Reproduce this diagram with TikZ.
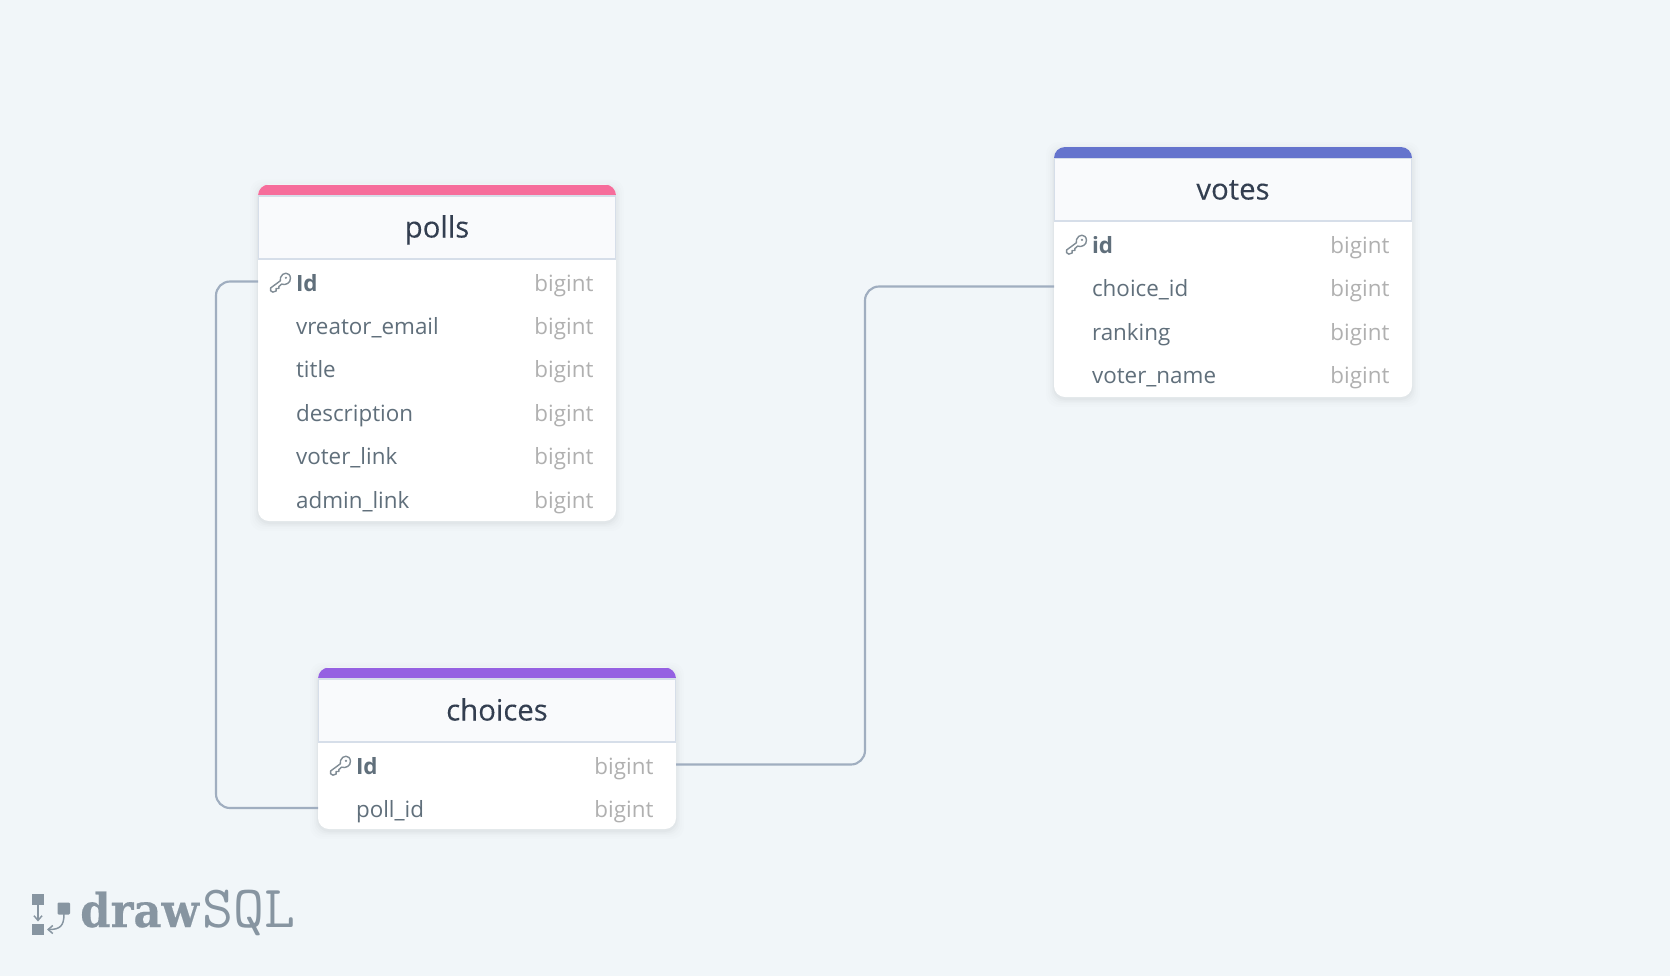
\documentclass[tikz,border=0pt]{standalone}
\usepackage{fontspec}
\setmainfont{Open Sans}
\newfontfamily\titlefont{Open Sans}[FakeBold=0.2]
\newfontfamily\slabbold{DejaVu Serif}[BoldFont={DejaVu Serif Bold},BoldFeatures={FakeBold=0.4}]
\newfontfamily\slablight{Latin Modern Mono}
\usetikzlibrary{arrows.meta}
\definecolor{bgc}{HTML}{F1F6F9}
\definecolor{pinkc}{HTML}{F66D9B}
\definecolor{purplec}{HTML}{9561E2}
\definecolor{bluec}{HTML}{6574CD}
\definecolor{linec}{HTML}{A0AEC0}
\definecolor{rowc}{HTML}{606F7B}
\definecolor{titlec}{HTML}{333E50}
\definecolor{typec}{HTML}{B0B0B0}
\definecolor{headc}{HTML}{F9FAFC}
\definecolor{edgec}{HTML}{D6DEE9}
\definecolor{logoc}{HTML}{8795A1}
\tikzset{
  x=0.75pt,y=-0.75pt,
  tablebody/.style={fill=white,draw=none,rounded corners=8.25pt},
  rowband/.style={minimum width=268.5pt,minimum height=32pt,inner sep=0,outer sep=0},
  rowtext/.style={anchor=base west,inner sep=0,text=rowc,font=\fontsize{16.8}{20}\selectfont},
  keytext/.style={rowtext,font=\fontsize{16.8}{20}\selectfont\bfseries},
  typetext/.style={anchor=base east,inner sep=0,text=typec,font=\fontsize{16.8}{20}\selectfont},
  titletext/.style={anchor=base,inner sep=0,text=titlec,font=\titlefont\fontsize{22}{24}\selectfont},
  link/.style={draw=linec,line width=1.6pt,rounded corners=10.5pt},
  keyline/.style={draw=rowc!80!white,line width=1.05pt,line cap=round,line join=round},
}
% #1 name, #2 left x, #3 top y, #4 header bottom y, #5 bottom y, #6 colour, #7 title
\newcommand{\dbtable}[7]{%
  \foreach \s/\o in {8/0.008,6/0.009,4/0.012,2.5/0.015,1/0.02}{%
    \fill[black,opacity=\o,rounded corners=9pt] (#2-\s,#3+3-\s) rectangle (#2+358+\s,#5+2+\s);}
  \fill[tablebody] (#2,#3) rectangle (#2+358,#5);
  \begin{scope}
    \clip[rounded corners=8.25pt] (#2,#3) rectangle (#2+358,#5);
    \fill[#6] (#2,#3) rectangle (#2+358,#3+11);
    \fill[headc] (#2,#3+11) rectangle (#2+358,#4);
  \end{scope}
  \draw[edgec,line width=1.1pt] (#2+.7,#3+11.5) -- (#2+357.3,#3+11.5) -- (#2+357.3,#4) -- (#2+.7,#4) -- cycle;
  \node[titletext] (#1-title) at (#2+179,#4-21.5) {#7};
}
% #1 name, #2 table left x, #3 link y, #4 baseline y, #5 text style, #6 label
\newcommand{\dbrow}[6]{%
  \node[rowband,anchor=west] (#1) at (#2,#3) {};
  \node[#5] (#1-label) at (#2+37.8,#4+1) {#6};
  \node[typetext] (#1-type) at (#2+335.7,#4+1) {bigint};
}
% #1 centre x, #2 centre y
\newcommand{\keyicon}[2]{%
  \begin{scope}[shift={(#1,#2)},scale=1.1]
    \draw[keyline] (0.5,-5) .. controls (2,-10) and (9,-10.5) .. (9.5,-4.5) .. controls (10,0) and (4.5,2.5) .. (1.5,1)
      -- (-1,3.2) -- (-1,5) -- (-3.5,5) -- (-3.5,7.3) -- (-6.5,8.3) -- (-8.5,7) -- (-8.5,4.5) -- (0.3,-2) .. controls (0,-3) and (0.2,-4) .. (0.5,-5);
    \fill[rowc!80!white] (5.4,-4.7) circle (1.1);
  \end{scope}
}
\begin{document}
\begin{tikzpicture}
\useasboundingbox (0,0) rectangle (1670,976);
\fill[bgc] (0,0) rectangle (1670,976);

\coordinate (bendA) at (216,500);
\coordinate (bendB) at (865,500);

% polls
\dbtable{polls}{258}{184.5}{259}{521}{pinkc}{polls}
\dbrow{polls-r1}{258}{281.5}{290}{keytext}{Id}
\dbrow{polls-r2}{258}{326}{333}{rowtext}{vreator\_email}
\dbrow{polls-r3}{258}{369}{376}{rowtext}{title}
\dbrow{polls-r4}{258}{413}{420}{rowtext}{description}
\dbrow{polls-r5}{258}{456}{463}{rowtext}{voter\_link}
\dbrow{polls-r6}{258}{500}{507.6}{rowtext}{admin\_link}
\keyicon{280}{283}

% choices
\dbtable{choices}{318}{667.5}{742}{829}{purplec}{choices}
\dbrow{choices-r1}{318}{764.5}{773}{keytext}{Id}
\dbrow{choices-r2}{318}{808}{816}{rowtext}{poll\_id}
\keyicon{340}{766}

% votes
\dbtable{votes}{1054}{147}{221}{397}{bluec}{votes}
\dbrow{votes-r1}{1054}{245}{252}{keytext}{id}
\dbrow{votes-r2}{1054}{286.5}{295}{rowtext}{choice\_id}
\dbrow{votes-r3}{1054}{332}{339}{rowtext}{ranking}
\dbrow{votes-r4}{1054}{375}{382}{rowtext}{voter\_name}
\keyicon{1076}{245}

% links
\draw[link] (polls-r1.west) -| (bendA) |- (choices-r2.west);
\draw[link] (choices-r1.east) -| (bendB) |- (votes-r2.west);

% logo
\fill[logoc] (32,893.5) rectangle (44,905);
\fill[logoc] (32,923.5) rectangle (44,934.5);
\fill[logoc,rounded corners=.8pt] (57.5,902.5) rectangle (70,914.5);
\draw[logoc,line width=1.1pt,-{Straight Barb[length=3.5pt,width=6pt]}] (38,905) -- (38,921.5);
\draw[logoc,line width=1.1pt,-{Straight Barb[length=3.5pt,width=6pt]}] (64,914) .. controls (64,926) and (60,929.5) .. (47,929.5);
\node[anchor=base west,inner sep=0,text=logoc] (logoA) at (80,927) {\scalebox{.93}[1]{\slabbold\bfseries\fontsize{35}{36}\selectfont draw}};
\node[anchor=base west,inner sep=0,text=logoc] (logoB) at (202,927) {\slablight\fontsize{45}{46}\selectfont SQL};
\end{tikzpicture}
\end{document}
